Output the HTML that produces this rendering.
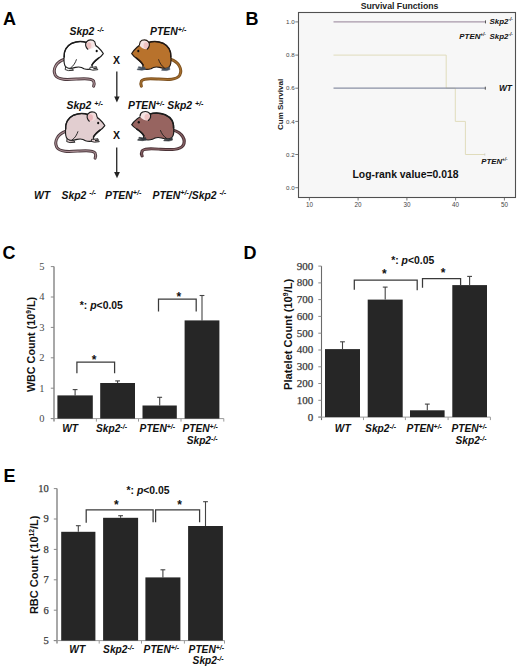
<!DOCTYPE html>
<html><head><meta charset="utf-8"><style>
html,body{margin:0;padding:0;background:#fff;width:520px;height:670px;overflow:hidden;font-family:"Liberation Sans", sans-serif;}
svg{display:block;}

</style></head><body>
<svg width="520" height="670" viewBox="0 0 520 670">
<text x="3" y="24.8" font-family='"Liberation Sans", sans-serif' font-weight="bold" font-size="18" fill="#000">A</text>
<text x="245.5" y="24.5" font-family='"Liberation Sans", sans-serif' font-weight="bold" font-size="18" fill="#000">B</text>
<text x="2.5" y="258.5" font-family='"Liberation Sans", sans-serif' font-weight="bold" font-size="18" fill="#000">C</text>
<text x="243.5" y="258.9" font-family='"Liberation Sans", sans-serif' font-weight="bold" font-size="18" fill="#000">D</text>
<text x="3.5" y="481.6" font-family='"Liberation Sans", sans-serif' font-weight="bold" font-size="18" fill="#000">E</text>
<text x="69.5" y="35" font-family='"Liberation Sans", sans-serif' font-weight="bold" font-style="italic" fill="#111" font-size="10.4">Skp2 <tspan font-size="7.2" dy="-3.2">-/-</tspan></text>
<text x="150" y="35" font-family='"Liberation Sans", sans-serif' font-weight="bold" font-style="italic" fill="#111" font-size="10.4">PTEN<tspan font-size="7.2" dy="-3.2">+/-</tspan></text>
<text x="66.5" y="109.2" font-family='"Liberation Sans", sans-serif' font-weight="bold" font-style="italic" fill="#111" font-size="10.4">Skp2 <tspan font-size="7.2" dy="-3.2">+/-</tspan></text>
<text x="128" y="109.2" font-family='"Liberation Sans", sans-serif' font-weight="bold" font-style="italic" fill="#111" font-size="10.4">PTEN<tspan font-size="7.2" dy="-3.2">+/-</tspan><tspan dy="3.2"> Skp2 </tspan><tspan font-size="7.2" dy="-3.2">+/-</tspan></text>
<text x="34" y="198.5" font-family='"Liberation Sans", sans-serif' font-weight="bold" font-style="italic" fill="#111" font-size="10.4">WT</text>
<text x="61.5" y="198.5" font-family='"Liberation Sans", sans-serif' font-weight="bold" font-style="italic" fill="#111" font-size="10.4">Skp2 <tspan font-size="7.2" dy="-3.2">-/-</tspan></text>
<text x="105" y="198.5" font-family='"Liberation Sans", sans-serif' font-weight="bold" font-style="italic" fill="#111" font-size="10.4">PTEN<tspan font-size="7.2" dy="-3.2">+/-</tspan></text>
<text x="152.5" y="198.5" font-family='"Liberation Sans", sans-serif' font-weight="bold" font-style="italic" fill="#111" font-size="10.4">PTEN<tspan font-size="7.2" dy="-3.2">+/-</tspan><tspan dy="3.2">/Skp2 </tspan><tspan font-size="7.2" dy="-3.2">-/-</tspan></text>
<text x="113" y="63.8" font-family='"Liberation Sans", sans-serif' font-weight="bold" font-size="10.5" fill="#111">X</text>
<text x="113" y="138.5" font-family='"Liberation Sans", sans-serif' font-weight="bold" font-size="10.5" fill="#111">X</text>
<line x1="116.8" y1="71.4" x2="116.8" y2="97.5" stroke="#333" stroke-width="1.4"/>
<path d="M114.2,96.6 L119.6,96.6 L116.9,102.4 Z" fill="#222"/>
<line x1="116.7" y1="147.4" x2="116.7" y2="172.5" stroke="#333" stroke-width="1.4"/>
<path d="M114.1,172 L119.9,172 L117,178.3 Z" fill="#222"/>
<g transform="translate(0,0)"><path d="M64.5,59.3 C56,62 52.3,69.5 55.3,75.3 C58.5,80.5 68,79.6 78,79 C86,78.4 92,78.3 93.6,81 C94.5,83 94.1,85 93.6,86.2" fill="none" stroke="#4e3b40" stroke-width="3" stroke-linecap="round"/><path d="M64.5,59.3 C56,62 52.3,69.5 55.3,75.3 C58.5,80.5 68,79.6 78,79 C86,78.4 92,78.3 93.6,81 C94.5,83 94.1,85 93.6,86.2" fill="none" stroke="#b09398" stroke-width="1.1" stroke-linecap="round"/><path d="M64,58.5 C63.5,52 66.5,46 72,43.2 C77,41 83,41.3 87,42.6 C91,43.2 95,44.5 98,47.2 C100.2,49.2 102.2,51.4 103.3,53.6 C101.8,55.8 100,57.2 98.5,58.2 C95.5,60.5 93,62.5 92,65 L92.3,68.8 C89.5,69.6 86.5,69.6 84,68.8 C82,67.2 78.5,66.6 75.5,67.4 C73.5,68 71,68.4 69,68.3 C66.5,68 64.8,66.5 64.3,63.5 C64,61.8 63.9,60.3 64,58.5 Z" fill="#ffffff" stroke="#1c1c1c" stroke-width="1.15" stroke-linejoin="round"/><path d="M65.6,66.8 L65.2,69.6 L68.5,70.6 L73.4,70.3 L72.6,69 L68.6,68.6 Z" fill="#ffffff" stroke="#1c1c1c" stroke-width="0.9" stroke-linejoin="round"/><path d="M90.3,67 L89.6,69.4 L93,70.2 L97.8,69.7 L97.3,68.7 L93.5,68.7 L96.8,67.6 L96.4,66.7 L92,67.4 Z" fill="#ffffff" stroke="#1c1c1c" stroke-width="0.9" stroke-linejoin="round"/><path d="M64.2,57 C63.8,51.5 66.5,46 72,43.2 C77,41 83,41.3 87,42.6" fill="none" stroke="#1c1c1c" stroke-width="1.5" stroke-linecap="round"/><path d="M98.5,58.2 C95.5,60.5 93,62.5 92,65" fill="none" stroke="#1c1c1c" stroke-width="1.6" stroke-linecap="round"/><path d="M70.5,68 C73.5,66 75.5,62.5 76.5,59.3" fill="none" stroke="#1c1c1c" stroke-width="0.9"/><path d="M86.2,47.5 C84.8,44 86.5,40.6 90,40.2 C93.3,39.9 95.7,42.2 95.5,45.2 C94,47.8 90.5,49.6 87.8,49.2 Z" fill="#f6e6e6"/><ellipse cx="88.9" cy="45.6" rx="2.5" ry="3.3" fill="#eec4c4"/><path d="M87.8,49.2 C85.6,47.5 84.8,44 86.5,41.8 C88,40 91,39.6 93,40.3 C94.6,41 95.4,42.5 95.5,44.5" fill="none" stroke="#1c1c1c" stroke-width="1.15" stroke-linecap="round"/><ellipse cx="96.7" cy="51" rx="1.05" ry="1.35" fill="#111"/></g>
<g transform="translate(0,0) translate(235,0) scale(-1,1)"><path d="M64.5,59.3 C56,62 52.3,69.5 55.3,75.3 C58.5,80.5 68,79.6 78,79 C86,78.4 92,78.3 93.6,81 C94.5,83 94.1,85 93.6,86.2" fill="none" stroke="#7e5220" stroke-width="3" stroke-linecap="round"/><path d="M64.5,59.3 C56,62 52.3,69.5 55.3,75.3 C58.5,80.5 68,79.6 78,79 C86,78.4 92,78.3 93.6,81 C94.5,83 94.1,85 93.6,86.2" fill="none" stroke="#a8702e" stroke-width="1.1" stroke-linecap="round"/><path d="M64,58.5 C63.5,52 66.5,46 72,43.2 C77,41 83,41.3 87,42.6 C91,43.2 95,44.5 98,47.2 C100.2,49.2 102.2,51.4 103.3,53.6 C101.8,55.8 100,57.2 98.5,58.2 C95.5,60.5 93,62.5 92,65 L92.3,68.8 C89.5,69.6 86.5,69.6 84,68.8 C82,67.2 78.5,66.6 75.5,67.4 C73.5,68 71,68.4 69,68.3 C66.5,68 64.8,66.5 64.3,63.5 C64,61.8 63.9,60.3 64,58.5 Z" fill="#b8722c" stroke="#241a14" stroke-width="1.15" stroke-linejoin="round"/><path d="M65.6,66.8 L65.2,69.6 L68.5,70.6 L73.4,70.3 L72.6,69 L68.6,68.6 Z" fill="#44505e" stroke="#44505e" stroke-width="0.6" stroke-linejoin="round"/><path d="M90.3,67 L89.6,69.4 L93,70.2 L97.8,69.7 L97.3,68.7 L93.5,68.7 L96.8,67.6 L96.4,66.7 L92,67.4 Z" fill="#44505e" stroke="#44505e" stroke-width="0.6" stroke-linejoin="round"/><path d="M64.2,57 C63.8,51.5 66.5,46 72,43.2 C77,41 83,41.3 87,42.6" fill="none" stroke="#241a14" stroke-width="1.5" stroke-linecap="round"/><path d="M98.5,58.2 C95.5,60.5 93,62.5 92,65" fill="none" stroke="#241a14" stroke-width="1.6" stroke-linecap="round"/><path d="M70.5,68 C73.5,66 75.5,62.5 76.5,59.3" fill="none" stroke="#241a14" stroke-width="0.9"/><path d="M86.2,47.5 C84.8,44 86.5,40.6 90,40.2 C93.3,39.9 95.7,42.2 95.5,45.2 C94,47.8 90.5,49.6 87.8,49.2 Z" fill="#f6e4e4"/><ellipse cx="88.9" cy="45.6" rx="2.5" ry="3.3" fill="#f0c4c4"/><path d="M87.8,49.2 C85.6,47.5 84.8,44 86.5,41.8 C88,40 91,39.6 93,40.3 C94.6,41 95.4,42.5 95.5,44.5" fill="none" stroke="#241a14" stroke-width="1.15" stroke-linecap="round"/><ellipse cx="96.7" cy="51" rx="1.05" ry="1.35" fill="#111"/></g>
<g transform="translate(1.5,72)"><path d="M64.5,59.3 C56,62 52.3,69.5 55.3,75.3 C58.5,80.5 68,79.6 78,79 C86,78.4 92,78.3 93.6,81 C94.5,83 94.1,85 93.6,86.2" fill="none" stroke="#4e3b40" stroke-width="3" stroke-linecap="round"/><path d="M64.5,59.3 C56,62 52.3,69.5 55.3,75.3 C58.5,80.5 68,79.6 78,79 C86,78.4 92,78.3 93.6,81 C94.5,83 94.1,85 93.6,86.2" fill="none" stroke="#a88c92" stroke-width="1.1" stroke-linecap="round"/><path d="M64,58.5 C63.5,52 66.5,46 72,43.2 C77,41 83,41.3 87,42.6 C91,43.2 95,44.5 98,47.2 C100.2,49.2 102.2,51.4 103.3,53.6 C101.8,55.8 100,57.2 98.5,58.2 C95.5,60.5 93,62.5 92,65 L92.3,68.8 C89.5,69.6 86.5,69.6 84,68.8 C82,67.2 78.5,66.6 75.5,67.4 C73.5,68 71,68.4 69,68.3 C66.5,68 64.8,66.5 64.3,63.5 C64,61.8 63.9,60.3 64,58.5 Z" fill="#e2ced0" stroke="#1c1c1c" stroke-width="1.15" stroke-linejoin="round"/><path d="M65.6,66.8 L65.2,69.6 L68.5,70.6 L73.4,70.3 L72.6,69 L68.6,68.6 Z" fill="#e2ced0" stroke="#1c1c1c" stroke-width="0.9" stroke-linejoin="round"/><path d="M90.3,67 L89.6,69.4 L93,70.2 L97.8,69.7 L97.3,68.7 L93.5,68.7 L96.8,67.6 L96.4,66.7 L92,67.4 Z" fill="#e2ced0" stroke="#1c1c1c" stroke-width="0.9" stroke-linejoin="round"/><path d="M64.2,57 C63.8,51.5 66.5,46 72,43.2 C77,41 83,41.3 87,42.6" fill="none" stroke="#1c1c1c" stroke-width="1.5" stroke-linecap="round"/><path d="M98.5,58.2 C95.5,60.5 93,62.5 92,65" fill="none" stroke="#1c1c1c" stroke-width="1.6" stroke-linecap="round"/><path d="M70.5,68 C73.5,66 75.5,62.5 76.5,59.3" fill="none" stroke="#1c1c1c" stroke-width="0.9"/><path d="M86.2,47.5 C84.8,44 86.5,40.6 90,40.2 C93.3,39.9 95.7,42.2 95.5,45.2 C94,47.8 90.5,49.6 87.8,49.2 Z" fill="#f2dcdc"/><ellipse cx="88.9" cy="45.6" rx="2.5" ry="3.3" fill="#eab8bc"/><path d="M87.8,49.2 C85.6,47.5 84.8,44 86.5,41.8 C88,40 91,39.6 93,40.3 C94.6,41 95.4,42.5 95.5,44.5" fill="none" stroke="#1c1c1c" stroke-width="1.15" stroke-linecap="round"/><ellipse cx="96.7" cy="51" rx="1.05" ry="1.35" fill="#111"/></g>
<g transform="translate(0,70.5) translate(235,0) scale(-1,1) translate(103.5,69.5) scale(1.07,0.96) translate(-103.5,-69.5)"><path d="M64.5,59.3 C56,62 52.3,69.5 55.3,75.3 C58.5,80.5 68,79.6 78,79 C86,78.4 92,78.3 93.6,81 C94.5,83 94.1,85 93.6,86.2" fill="none" stroke="#4a3236" stroke-width="3" stroke-linecap="round"/><path d="M64.5,59.3 C56,62 52.3,69.5 55.3,75.3 C58.5,80.5 68,79.6 78,79 C86,78.4 92,78.3 93.6,81 C94.5,83 94.1,85 93.6,86.2" fill="none" stroke="#8a6266" stroke-width="1.1" stroke-linecap="round"/><path d="M64,58.5 C63.5,52 66.5,46 72,43.2 C77,41 83,41.3 87,42.6 C91,43.2 95,44.5 98,47.2 C100.2,49.2 102.2,51.4 103.3,53.6 C101.8,55.8 100,57.2 98.5,58.2 C95.5,60.5 93,62.5 92,65 L92.3,68.8 C89.5,69.6 86.5,69.6 84,68.8 C82,67.2 78.5,66.6 75.5,67.4 C73.5,68 71,68.4 69,68.3 C66.5,68 64.8,66.5 64.3,63.5 C64,61.8 63.9,60.3 64,58.5 Z" fill="#976460" stroke="#1c1c1c" stroke-width="1.15" stroke-linejoin="round"/><path d="M65.6,66.8 L65.2,69.6 L68.5,70.6 L73.4,70.3 L72.6,69 L68.6,68.6 Z" fill="#34383e" stroke="#34383e" stroke-width="0.6" stroke-linejoin="round"/><path d="M90.3,67 L89.6,69.4 L93,70.2 L97.8,69.7 L97.3,68.7 L93.5,68.7 L96.8,67.6 L96.4,66.7 L92,67.4 Z" fill="#34383e" stroke="#34383e" stroke-width="0.6" stroke-linejoin="round"/><path d="M64.2,57 C63.8,51.5 66.5,46 72,43.2 C77,41 83,41.3 87,42.6" fill="none" stroke="#1c1c1c" stroke-width="1.5" stroke-linecap="round"/><path d="M98.5,58.2 C95.5,60.5 93,62.5 92,65" fill="none" stroke="#1c1c1c" stroke-width="1.6" stroke-linecap="round"/><path d="M70.5,68 C73.5,66 75.5,62.5 76.5,59.3" fill="none" stroke="#1c1c1c" stroke-width="0.9"/><path d="M86.2,47.5 C84.8,44 86.5,40.6 90,40.2 C93.3,39.9 95.7,42.2 95.5,45.2 C94,47.8 90.5,49.6 87.8,49.2 Z" fill="#f6e4e4"/><ellipse cx="88.9" cy="45.6" rx="2.5" ry="3.3" fill="#f0c4c4"/><path d="M87.8,49.2 C85.6,47.5 84.8,44 86.5,41.8 C88,40 91,39.6 93,40.3 C94.6,41 95.4,42.5 95.5,44.5" fill="none" stroke="#1c1c1c" stroke-width="1.15" stroke-linecap="round"/><ellipse cx="96.7" cy="51" rx="1.05" ry="1.35" fill="#111"/></g>
<rect x="298.5" y="12.5" width="217" height="185" fill="#f7f7f7" stroke="#505050" stroke-width="1.1"/>
<text x="399.5" y="8.7" text-anchor="middle" font-family='"Liberation Sans", sans-serif' font-weight="bold" font-size="8.7" fill="#222">Survival Functions</text>
<line x1="295.3" y1="187.7" x2="298.7" y2="187.7" stroke="#555" stroke-width="0.8"/>
<text x="294.6" y="189.9" text-anchor="end" font-family='"Liberation Sans", sans-serif' font-size="6.2" fill="#444">0.0</text>
<line x1="295.3" y1="154.5" x2="298.7" y2="154.5" stroke="#555" stroke-width="0.8"/>
<text x="294.6" y="156.7" text-anchor="end" font-family='"Liberation Sans", sans-serif' font-size="6.2" fill="#444">0.2</text>
<line x1="295.3" y1="121.4" x2="298.7" y2="121.4" stroke="#555" stroke-width="0.8"/>
<text x="294.6" y="123.6" text-anchor="end" font-family='"Liberation Sans", sans-serif' font-size="6.2" fill="#444">0.4</text>
<line x1="295.3" y1="88.2" x2="298.7" y2="88.2" stroke="#555" stroke-width="0.8"/>
<text x="294.6" y="90.4" text-anchor="end" font-family='"Liberation Sans", sans-serif' font-size="6.2" fill="#444">0.6</text>
<line x1="295.3" y1="55.1" x2="298.7" y2="55.1" stroke="#555" stroke-width="0.8"/>
<text x="294.6" y="57.3" text-anchor="end" font-family='"Liberation Sans", sans-serif' font-size="6.2" fill="#444">0.8</text>
<line x1="295.3" y1="21.9" x2="298.7" y2="21.9" stroke="#555" stroke-width="0.8"/>
<text x="294.6" y="24.1" text-anchor="end" font-family='"Liberation Sans", sans-serif' font-size="6.2" fill="#444">1.0</text>
<line x1="309.4" y1="197.1" x2="309.4" y2="200.5" stroke="#555" stroke-width="0.8"/>
<text x="309.4" y="207.3" text-anchor="middle" font-family='"Liberation Sans", sans-serif' font-size="6.3" fill="#444">10</text>
<line x1="358.1" y1="197.1" x2="358.1" y2="200.5" stroke="#555" stroke-width="0.8"/>
<text x="358.1" y="207.3" text-anchor="middle" font-family='"Liberation Sans", sans-serif' font-size="6.3" fill="#444">20</text>
<line x1="406.9" y1="197.1" x2="406.9" y2="200.5" stroke="#555" stroke-width="0.8"/>
<text x="406.9" y="207.3" text-anchor="middle" font-family='"Liberation Sans", sans-serif' font-size="6.3" fill="#444">30</text>
<line x1="455.6" y1="197.1" x2="455.6" y2="200.5" stroke="#555" stroke-width="0.8"/>
<text x="455.6" y="207.3" text-anchor="middle" font-family='"Liberation Sans", sans-serif' font-size="6.3" fill="#444">40</text>
<line x1="504.4" y1="197.1" x2="504.4" y2="200.5" stroke="#555" stroke-width="0.8"/>
<text x="504.4" y="207.3" text-anchor="middle" font-family='"Liberation Sans", sans-serif' font-size="6.3" fill="#444">50</text>
<text transform="translate(283.2,130) rotate(-90)" font-family='"Liberation Sans", sans-serif' font-weight="bold" font-size="8" fill="#222">Cum Survival</text>
<path d="M333.5,55.1 H446.2 V88.2 H455.3 V121.4 H465.4 V154.5 H485" fill="none" stroke="#e0dcbc" stroke-width="1"/>
<path d="M333.5,88.2 H485.5" fill="none" stroke="#8a90a4" stroke-width="1.2"/>
<path d="M333.5,21.9 H486" fill="none" stroke="#a898aa" stroke-width="1.3"/>
<line x1="485.5" y1="20.4" x2="485.5" y2="23.4" stroke="#555" stroke-width="1"/>
<line x1="485.3" y1="86.7" x2="485.3" y2="89.7" stroke="#555" stroke-width="1"/>
<line x1="484.8" y1="153.3" x2="484.8" y2="155.7" stroke="#ccc" stroke-width="0.8"/>
<text x="489.6" y="23.9" font-family='"Liberation Sans", sans-serif' font-weight="bold" font-style="italic" fill="#111" font-size="7.9">Skp2<tspan font-size="4.6" dy="-3">-/-</tspan></text>
<text x="459.3" y="39.2" font-family='"Liberation Sans", sans-serif' font-weight="bold" font-style="italic" fill="#111" font-size="7.9">PTEN<tspan font-size="4.6" dy="-3">+/-</tspan><tspan x="489.6" dy="3">Skp2</tspan><tspan font-size="4.6" dy="-3">-/-</tspan></text>
<text x="498.9" y="91" font-family='"Liberation Sans", sans-serif' font-weight="bold" font-style="italic" fill="#111" font-size="8.4">WT</text>
<text x="481.3" y="164" font-family='"Liberation Sans", sans-serif' font-weight="bold" font-style="italic" fill="#111" font-size="7.8">PTEN<tspan font-size="4.5" dy="-3">+/-</tspan></text>
<text x="352.5" y="178.3" font-family='"Liberation Sans", sans-serif' font-weight="bold" font-size="10.4" fill="#111">Log-rank value=0.018</text>
<line x1="54" y1="266.6" x2="54" y2="421.6" stroke="#a8a8a8" stroke-width="2.0"/>
<line x1="50.8" y1="418.6" x2="223.8" y2="418.6" stroke="#9a9a9a" stroke-width="1"/>
<line x1="50.8" y1="418.6" x2="54" y2="418.6" stroke="#8a8a8a" stroke-width="1"/>
<text x="44.6" y="422.0" text-anchor="end" font-family='"Liberation Serif", serif' font-size="10.5" fill="#4a4a4a" stroke="#4a4a4a" stroke-width="0">0</text>
<line x1="50.8" y1="388.2" x2="54" y2="388.2" stroke="#8a8a8a" stroke-width="1"/>
<text x="44.6" y="391.6" text-anchor="end" font-family='"Liberation Serif", serif' font-size="10.5" fill="#4a4a4a" stroke="#4a4a4a" stroke-width="0">1</text>
<line x1="50.8" y1="357.8" x2="54" y2="357.8" stroke="#8a8a8a" stroke-width="1"/>
<text x="44.6" y="361.2" text-anchor="end" font-family='"Liberation Serif", serif' font-size="10.5" fill="#4a4a4a" stroke="#4a4a4a" stroke-width="0">2</text>
<line x1="50.8" y1="327.4" x2="54" y2="327.4" stroke="#8a8a8a" stroke-width="1"/>
<text x="44.6" y="330.8" text-anchor="end" font-family='"Liberation Serif", serif' font-size="10.5" fill="#4a4a4a" stroke="#4a4a4a" stroke-width="0">3</text>
<line x1="50.8" y1="297.0" x2="54" y2="297.0" stroke="#8a8a8a" stroke-width="1"/>
<text x="44.6" y="300.4" text-anchor="end" font-family='"Liberation Serif", serif' font-size="10.5" fill="#4a4a4a" stroke="#4a4a4a" stroke-width="0">4</text>
<line x1="50.8" y1="266.6" x2="54" y2="266.6" stroke="#8a8a8a" stroke-width="1"/>
<text x="44.6" y="270.0" text-anchor="end" font-family='"Liberation Serif", serif' font-size="10.5" fill="#4a4a4a" stroke="#4a4a4a" stroke-width="0">5</text>
<line x1="96.4" y1="418.6" x2="96.4" y2="421.6" stroke="#9a9a9a" stroke-width="1"/>
<line x1="138.5" y1="418.6" x2="138.5" y2="421.6" stroke="#9a9a9a" stroke-width="1"/>
<line x1="181" y1="418.6" x2="181" y2="421.6" stroke="#9a9a9a" stroke-width="1"/>
<line x1="223.8" y1="418.6" x2="223.8" y2="421.6" stroke="#9a9a9a" stroke-width="1"/>
<line x1="75.1" y1="389.6" x2="75.1" y2="395.4" stroke="#444" stroke-width="1.1"/>
<line x1="72.7" y1="389.6" x2="77.5" y2="389.6" stroke="#444" stroke-width="1.1"/>
<rect x="57.4" y="395.4" width="35.4" height="23.2" fill="#262626"/>
<line x1="117.6" y1="380.9" x2="117.6" y2="383.0" stroke="#444" stroke-width="1.1"/>
<line x1="115.2" y1="380.9" x2="120.0" y2="380.9" stroke="#444" stroke-width="1.1"/>
<rect x="100.2" y="383.0" width="34.8" height="35.6" fill="#262626"/>
<line x1="159.7" y1="397.3" x2="159.7" y2="405.5" stroke="#444" stroke-width="1.1"/>
<line x1="157.2" y1="397.3" x2="162.1" y2="397.3" stroke="#444" stroke-width="1.1"/>
<rect x="142.5" y="405.5" width="34.3" height="13.1" fill="#262626"/>
<line x1="202.0" y1="295.5" x2="202.0" y2="320.4" stroke="#444" stroke-width="1.1"/>
<line x1="199.6" y1="295.5" x2="204.4" y2="295.5" stroke="#444" stroke-width="1.1"/>
<rect x="184.6" y="320.4" width="34.8" height="98.2" fill="#262626"/>
<text x="62.2" y="431.8" font-family='"Liberation Sans", sans-serif' font-weight="bold" font-style="italic" fill="#111" font-size="10.2">WT</text>
<text x="96" y="431.8" font-family='"Liberation Sans", sans-serif' font-weight="bold" font-style="italic" fill="#111" font-size="10.2">Skp2<tspan font-size="7" dy="-3">-/-</tspan></text>
<text x="139.6" y="431.8" font-family='"Liberation Sans", sans-serif' font-weight="bold" font-style="italic" fill="#111" font-size="10.2">PTEN<tspan font-size="7" dy="-3">+/-</tspan></text>
<text x="182.4" y="431.8" font-family='"Liberation Sans", sans-serif' font-weight="bold" font-style="italic" fill="#111" font-size="10.2">PTEN<tspan font-size="7" dy="-3">+/-</tspan></text>
<text x="186.7" y="443.6" font-family='"Liberation Sans", sans-serif' font-weight="bold" font-style="italic" fill="#111" font-size="10.2">Skp2<tspan font-size="7" dy="-3">-/-</tspan></text>
<text transform="translate(34.5,344.5) rotate(-90)" text-anchor="middle" font-family='"Liberation Sans", sans-serif' font-weight="bold" font-size="10.75" fill="#111">WBC Count (10<tspan font-size="6.7" dy="-4">9</tspan><tspan dy="4">/L)</tspan></text>
<path d="M76.9,373.3 V362 H114.6 V373.3" fill="none" stroke="#3a3a3a" stroke-width="1.25"/>
<text x="94.1" y="363.6" text-anchor="middle" font-family='"Liberation Sans", sans-serif' font-weight="bold" font-size="12" fill="#111">*</text>
<path d="M158.5,311.5 V299.2 H196.2 V311.5" fill="none" stroke="#3a3a3a" stroke-width="1.25"/>
<text x="178.8" y="300.6" text-anchor="middle" font-family='"Liberation Sans", sans-serif' font-weight="bold" font-size="12" fill="#111">*</text>
<text x="79.8" y="308.6" font-family='"Liberation Sans", sans-serif' font-weight="bold" font-size="10.4" fill="#111">*: <tspan font-style="italic">p</tspan>&lt;0.05</text>
<line x1="321.5" y1="266.1" x2="321.5" y2="420.1" stroke="#6a6a6a" stroke-width="1.1"/>
<line x1="318.3" y1="417.1" x2="490.4" y2="417.1" stroke="#9a9a9a" stroke-width="1"/>
<line x1="318.3" y1="417.1" x2="321.5" y2="417.1" stroke="#8a8a8a" stroke-width="1"/>
<text x="313.2" y="420.5" text-anchor="end" font-family='"Liberation Serif", serif' font-size="11" fill="#3a3a3a" stroke="#3a3a3a" stroke-width="0.25">0</text>
<line x1="318.3" y1="400.3" x2="321.5" y2="400.3" stroke="#8a8a8a" stroke-width="1"/>
<text x="313.2" y="403.7" text-anchor="end" font-family='"Liberation Serif", serif' font-size="11" fill="#3a3a3a" stroke="#3a3a3a" stroke-width="0.25">100</text>
<line x1="318.3" y1="383.5" x2="321.5" y2="383.5" stroke="#8a8a8a" stroke-width="1"/>
<text x="313.2" y="386.9" text-anchor="end" font-family='"Liberation Serif", serif' font-size="11" fill="#3a3a3a" stroke="#3a3a3a" stroke-width="0.25">200</text>
<line x1="318.3" y1="366.8" x2="321.5" y2="366.8" stroke="#8a8a8a" stroke-width="1"/>
<text x="313.2" y="370.2" text-anchor="end" font-family='"Liberation Serif", serif' font-size="11" fill="#3a3a3a" stroke="#3a3a3a" stroke-width="0.25">300</text>
<line x1="318.3" y1="350.0" x2="321.5" y2="350.0" stroke="#8a8a8a" stroke-width="1"/>
<text x="313.2" y="353.4" text-anchor="end" font-family='"Liberation Serif", serif' font-size="11" fill="#3a3a3a" stroke="#3a3a3a" stroke-width="0.25">400</text>
<line x1="318.3" y1="333.2" x2="321.5" y2="333.2" stroke="#8a8a8a" stroke-width="1"/>
<text x="313.2" y="336.6" text-anchor="end" font-family='"Liberation Serif", serif' font-size="11" fill="#3a3a3a" stroke="#3a3a3a" stroke-width="0.25">500</text>
<line x1="318.3" y1="316.4" x2="321.5" y2="316.4" stroke="#8a8a8a" stroke-width="1"/>
<text x="313.2" y="319.8" text-anchor="end" font-family='"Liberation Serif", serif' font-size="11" fill="#3a3a3a" stroke="#3a3a3a" stroke-width="0.25">600</text>
<line x1="318.3" y1="299.6" x2="321.5" y2="299.6" stroke="#8a8a8a" stroke-width="1"/>
<text x="313.2" y="303.0" text-anchor="end" font-family='"Liberation Serif", serif' font-size="11" fill="#3a3a3a" stroke="#3a3a3a" stroke-width="0.25">700</text>
<line x1="318.3" y1="282.9" x2="321.5" y2="282.9" stroke="#8a8a8a" stroke-width="1"/>
<text x="313.2" y="286.3" text-anchor="end" font-family='"Liberation Serif", serif' font-size="11" fill="#3a3a3a" stroke="#3a3a3a" stroke-width="0.25">800</text>
<line x1="318.3" y1="266.1" x2="321.5" y2="266.1" stroke="#8a8a8a" stroke-width="1"/>
<text x="313.2" y="269.5" text-anchor="end" font-family='"Liberation Serif", serif' font-size="11" fill="#3a3a3a" stroke="#3a3a3a" stroke-width="0.25">900</text>
<line x1="363.5" y1="417.1" x2="363.5" y2="420.1" stroke="#9a9a9a" stroke-width="1"/>
<line x1="405.4" y1="417.1" x2="405.4" y2="420.1" stroke="#9a9a9a" stroke-width="1"/>
<line x1="448.1" y1="417.1" x2="448.1" y2="420.1" stroke="#9a9a9a" stroke-width="1"/>
<line x1="490.4" y1="417.1" x2="490.4" y2="420.1" stroke="#9a9a9a" stroke-width="1"/>
<line x1="342.5" y1="341.8" x2="342.5" y2="349.1" stroke="#444" stroke-width="1.1"/>
<line x1="340.1" y1="341.8" x2="344.9" y2="341.8" stroke="#444" stroke-width="1.1"/>
<rect x="325" y="349.1" width="35.0" height="68.0" fill="#262626"/>
<line x1="385.2" y1="287.1" x2="385.2" y2="299.6" stroke="#444" stroke-width="1.1"/>
<line x1="382.8" y1="287.1" x2="387.6" y2="287.1" stroke="#444" stroke-width="1.1"/>
<rect x="367.7" y="299.6" width="35.0" height="117.5" fill="#262626"/>
<line x1="427.3" y1="404.1" x2="427.3" y2="410.3" stroke="#444" stroke-width="1.1"/>
<line x1="424.9" y1="404.1" x2="429.7" y2="404.1" stroke="#444" stroke-width="1.1"/>
<rect x="410" y="410.3" width="34.6" height="6.8" fill="#262626"/>
<line x1="469.6" y1="276.4" x2="469.6" y2="285.1" stroke="#444" stroke-width="1.1"/>
<line x1="467.2" y1="276.4" x2="472.0" y2="276.4" stroke="#444" stroke-width="1.1"/>
<rect x="452.3" y="285.1" width="34.7" height="132.0" fill="#262626"/>
<text x="334.8" y="431.7" font-family='"Liberation Sans", sans-serif' font-weight="bold" font-style="italic" fill="#111" font-size="10.2">WT</text>
<text x="365.1" y="431.7" font-family='"Liberation Sans", sans-serif' font-weight="bold" font-style="italic" fill="#111" font-size="10.2">Skp2<tspan font-size="7" dy="-3">-/-</tspan></text>
<text x="406.4" y="431.7" font-family='"Liberation Sans", sans-serif' font-weight="bold" font-style="italic" fill="#111" font-size="10.2">PTEN<tspan font-size="7" dy="-3">+/-</tspan></text>
<text x="451.4" y="431.7" font-family='"Liberation Sans", sans-serif' font-weight="bold" font-style="italic" fill="#111" font-size="10.2">PTEN<tspan font-size="7" dy="-3">+/-</tspan></text>
<text x="455.5" y="443.6" font-family='"Liberation Sans", sans-serif' font-weight="bold" font-style="italic" fill="#111" font-size="10.2">Skp2<tspan font-size="7" dy="-3">-/-</tspan></text>
<text transform="translate(291.5,334.4) rotate(-90)" text-anchor="middle" font-family='"Liberation Sans", sans-serif' font-weight="bold" font-size="11.1" fill="#111">Platelet Count (10<tspan font-size="6.9" dy="-4">9</tspan><tspan dy="4">/L)</tspan></text>
<path d="M354.3,289.8 V280 H417.2 V290.2" fill="none" stroke="#3a3a3a" stroke-width="1.25"/>
<text x="384.4" y="277.6" text-anchor="middle" font-family='"Liberation Sans", sans-serif' font-weight="bold" font-size="12" fill="#111">*</text>
<path d="M422.5,287.7 V278.7 H460.6 V285.4" fill="none" stroke="#3a3a3a" stroke-width="1.25"/>
<text x="443.1" y="277.1" text-anchor="middle" font-family='"Liberation Sans", sans-serif' font-weight="bold" font-size="12" fill="#111">*</text>
<text x="391.2" y="264.3" font-family='"Liberation Sans", sans-serif' font-weight="bold" font-size="10.4" fill="#111">*: <tspan font-style="italic">p</tspan>&lt;0.05</text>
<line x1="57" y1="488.6" x2="57" y2="643.6" stroke="#a8a8a8" stroke-width="2.0"/>
<line x1="53.8" y1="640.6" x2="224.5" y2="640.6" stroke="#9a9a9a" stroke-width="1"/>
<line x1="53.8" y1="640.6" x2="57" y2="640.6" stroke="#8a8a8a" stroke-width="1"/>
<text x="48.7" y="644.0" text-anchor="end" font-family='"Liberation Serif", serif' font-size="10.5" fill="#3a3a3a" stroke="#3a3a3a" stroke-width="0.25">5</text>
<line x1="53.8" y1="610.2" x2="57" y2="610.2" stroke="#8a8a8a" stroke-width="1"/>
<text x="48.7" y="613.6" text-anchor="end" font-family='"Liberation Serif", serif' font-size="10.5" fill="#3a3a3a" stroke="#3a3a3a" stroke-width="0.25">6</text>
<line x1="53.8" y1="579.8" x2="57" y2="579.8" stroke="#8a8a8a" stroke-width="1"/>
<text x="48.7" y="583.2" text-anchor="end" font-family='"Liberation Serif", serif' font-size="10.5" fill="#3a3a3a" stroke="#3a3a3a" stroke-width="0.25">7</text>
<line x1="53.8" y1="549.4" x2="57" y2="549.4" stroke="#8a8a8a" stroke-width="1"/>
<text x="48.7" y="552.8" text-anchor="end" font-family='"Liberation Serif", serif' font-size="10.5" fill="#3a3a3a" stroke="#3a3a3a" stroke-width="0.25">8</text>
<line x1="53.8" y1="519.0" x2="57" y2="519.0" stroke="#8a8a8a" stroke-width="1"/>
<text x="48.7" y="522.4" text-anchor="end" font-family='"Liberation Serif", serif' font-size="10.5" fill="#3a3a3a" stroke="#3a3a3a" stroke-width="0.25">9</text>
<line x1="53.8" y1="488.6" x2="57" y2="488.6" stroke="#8a8a8a" stroke-width="1"/>
<text x="48.7" y="492.0" text-anchor="end" font-family='"Liberation Serif", serif' font-size="10.5" fill="#3a3a3a" stroke="#3a3a3a" stroke-width="0.25">10</text>
<line x1="99.2" y1="640.6" x2="99.2" y2="643.6" stroke="#9a9a9a" stroke-width="1"/>
<line x1="141.5" y1="640.6" x2="141.5" y2="643.6" stroke="#9a9a9a" stroke-width="1"/>
<line x1="184.4" y1="640.6" x2="184.4" y2="643.6" stroke="#9a9a9a" stroke-width="1"/>
<line x1="224.5" y1="640.6" x2="224.5" y2="643.6" stroke="#9a9a9a" stroke-width="1"/>
<line x1="78.3" y1="525.7" x2="78.3" y2="531.8" stroke="#444" stroke-width="1.1"/>
<line x1="75.9" y1="525.7" x2="80.7" y2="525.7" stroke="#444" stroke-width="1.1"/>
<rect x="61.2" y="531.8" width="34.2" height="108.8" fill="#262626"/>
<line x1="120.6" y1="515.7" x2="120.6" y2="517.8" stroke="#444" stroke-width="1.1"/>
<line x1="118.2" y1="515.7" x2="123.0" y2="515.7" stroke="#444" stroke-width="1.1"/>
<rect x="103.1" y="517.8" width="35.0" height="122.8" fill="#262626"/>
<line x1="162.9" y1="569.8" x2="162.9" y2="577.4" stroke="#444" stroke-width="1.1"/>
<line x1="160.5" y1="569.8" x2="165.3" y2="569.8" stroke="#444" stroke-width="1.1"/>
<rect x="145.4" y="577.4" width="35.0" height="63.2" fill="#262626"/>
<line x1="205.5" y1="501.7" x2="205.5" y2="526.0" stroke="#444" stroke-width="1.1"/>
<line x1="203.1" y1="501.7" x2="207.9" y2="501.7" stroke="#444" stroke-width="1.1"/>
<rect x="188.1" y="526.0" width="34.8" height="114.6" fill="#262626"/>
<text x="69.3" y="652.5" font-family='"Liberation Sans", sans-serif' font-weight="bold" font-style="italic" fill="#111" font-size="10.2">WT</text>
<text x="103.1" y="652.5" font-family='"Liberation Sans", sans-serif' font-weight="bold" font-style="italic" fill="#111" font-size="10.2">Skp2<tspan font-size="7" dy="-3">-/-</tspan></text>
<text x="143.6" y="652.5" font-family='"Liberation Sans", sans-serif' font-weight="bold" font-style="italic" fill="#111" font-size="10.2">PTEN<tspan font-size="7" dy="-3">+/-</tspan></text>
<text x="188.6" y="652.5" font-family='"Liberation Sans", sans-serif' font-weight="bold" font-style="italic" fill="#111" font-size="10.2">PTEN<tspan font-size="7" dy="-3">+/-</tspan></text>
<text x="192.6" y="664.2" font-family='"Liberation Sans", sans-serif' font-weight="bold" font-style="italic" fill="#111" font-size="10.2">Skp2<tspan font-size="7" dy="-3">-/-</tspan></text>
<text transform="translate(38.2,564.8) rotate(-90)" text-anchor="middle" font-family='"Liberation Sans", sans-serif' font-weight="bold" font-size="11" fill="#111">RBC Count (10<tspan font-size="6.8" dy="-4">12</tspan><tspan dy="4">/L)</tspan></text>
<path d="M86.2,522.7 V509.8 H153.1 V522.3" fill="none" stroke="#3a3a3a" stroke-width="1.25"/>
<text x="116.3" y="509.3" text-anchor="middle" font-family='"Liberation Sans", sans-serif' font-weight="bold" font-size="12" fill="#111">*</text>
<path d="M155.6,522.3 V509.8 H199.6 V522.3" fill="none" stroke="#3a3a3a" stroke-width="1.25"/>
<text x="179.6" y="509.1" text-anchor="middle" font-family='"Liberation Sans", sans-serif' font-weight="bold" font-size="12" fill="#111">*</text>
<text x="126.5" y="494.4" font-family='"Liberation Sans", sans-serif' font-weight="bold" font-size="10.4" fill="#111">*: <tspan font-style="italic">p</tspan>&lt;0.05</text>
</svg>
</body></html>
